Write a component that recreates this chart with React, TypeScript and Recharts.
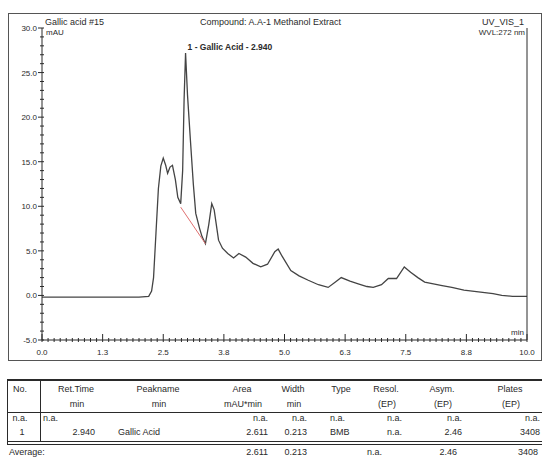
import React from "react";
import { LineChart, Line, XAxis, YAxis, ReferenceDot } from "recharts";

// chromatogram trace (min, mAU)
const retentionTime = [
  0.0, 1.0, 2.0, 2.2, 2.26, 2.3, 2.35, 2.4, 2.45, 2.5, 2.55, 2.59, 2.64, 2.69,
  2.75, 2.8, 2.86, 2.9, 2.93, 2.96, 3.0, 3.06, 3.12, 3.17, 3.25, 3.3, 3.37,
  3.44, 3.5, 3.55, 3.64, 3.72, 3.83, 3.95, 4.06, 4.2, 4.35, 4.51, 4.65, 4.8,
  4.87, 4.95, 5.13, 5.3, 5.49, 5.7, 5.9, 6.05, 6.17, 6.35, 6.52, 6.7, 6.83,
  7.0, 7.14, 7.31, 7.47, 7.6, 7.75, 7.89, 8.07, 8.25, 8.45, 8.7, 9.0, 9.3,
  9.48, 9.7, 10.0,
];
const absorbance = [
  -0.2, -0.2, -0.2, -0.1, 0.5, 2.0, 7.0, 12.0, 14.5, 15.4, 14.6, 13.7, 14.4,
  14.6, 13.0, 11.0, 10.3, 14.0, 22.0, 27.2, 22.5, 17.4, 12.5, 9.2, 7.5, 6.6,
  5.8, 8.0, 10.3, 9.6, 6.2, 5.3, 4.7, 4.2, 4.7, 4.3, 3.6, 3.2, 3.5, 4.9, 5.2,
  4.4, 2.8, 2.2, 1.7, 1.2, 0.9, 1.5, 2.0, 1.6, 1.3, 1.0, 0.9, 1.2, 1.9, 1.9,
  3.2, 2.6, 2.0, 1.5, 1.3, 1.1, 0.9, 0.6, 0.4, 0.2, 0.0, -0.1, -0.1,
];

// integration baseline under peak 1
const baselineTime = [2.86, 3.37];
const baselineValue = [9.9, 5.8];

const peakTime = 2.96;
const peakHeight = 27.2;
const peakLabel = "1 - Gallic Acid - 2.940";

const xMajorTicks = [0, 1.25, 2.5, 3.75, 5, 6.25, 7.5, 8.75, 10];
const xTickLabels = ["0.0", "1.3", "2.5", "3.8", "5.0", "6.3", "7.5", "8.8", "10.0"];
const yMajorTicks = [-5, 0, 5, 10, 15, 20, 25, 30];
const yTickLabels = ["-5.0", "0.0", "5.0", "10.0", "15.0", "20.0", "25.0", "30.0"];

// peak table
const tableHead1 = ["No.", "Ret.Time", "Peakname", "Area", "Width", "Type", "Resol.", "Asym.", "Plates"];
const tableHead2 = ["", "min", "min", "mAU*min", "min", "", "(EP)", "(EP)", "(EP)"];
const naRow = ["n.a.", "n.a.", "", "n.a.", "n.a.", "n.a.", "n.a.", "n.a.", "n.a."];
const peakRow = ["1", "2.940", "Gallic Acid", "2.611", "0.213", "BMB", "n.a.", "2.46", "3408"];
const averageRow = ["Average:", "", "", "2.611", "0.213", "", "n.a.", "2.46", "3408"];

const trace = retentionTime.map((t, i) => ({ t, v: absorbance[i] }));
const baseline = baselineTime.map((t, i) => ({ t, v: baselineValue[i] }));

const xMinor = Array.from({ length: 81 }, (_, i) => i * 0.125);
const yMinor = Array.from({ length: 36 }, (_, i) => i - 5);

const FONT = "'Liberation Sans', Arial, sans-serif";
const INK = "#2a2a2a";

const XTick = (props: any) => {
  const { x, y, payload } = props;
  const idx = xMajorTicks.indexOf(payload.value);
  const major = idx >= 0;
  return (
    <g>
      <line x1={x} x2={x} y1={y - (major ? 6 : 2)} y2={y + 2} stroke={INK} strokeWidth={1} />
      {major && (
        <text x={x} y={y + 15} textAnchor="middle" fontSize={8} fill={INK} fontFamily={FONT}>
          {xTickLabels[idx]}
        </text>
      )}
    </g>
  );
};

const YTick = (props: any) => {
  const { x, y, payload } = props;
  const idx = yMajorTicks.indexOf(payload.value);
  const major = idx >= 0;
  return (
    <g>
      <line x1={x - (major ? 4 : 2)} x2={x + 2} y1={y} y2={y} stroke={INK} strokeWidth={1} />
      {major && (
        <text x={x - 5} y={y + 3} textAnchor="end" fontSize={8} fill={INK} fontFamily={FONT}>
          {yTickLabels[idx]}
        </text>
      )}
    </g>
  );
};

const PeakText = (props: any) => {
  const { viewBox } = props;
  return (
    <text
      x={viewBox.x + 2}
      y={viewBox.y - 3}
      fontSize={8.5}
      fontWeight="bold"
      fill={INK}
      fontFamily={FONT}
    >
      {peakLabel}
    </text>
  );
};

type Align = "left" | "right" | "center";
const T = ({ x, y, align, size = 9, children }: { x: number; y: number; align: Align; size?: number; children: any }) => {
  const style: React.CSSProperties = {
    position: "absolute",
    top: y - 5,
    fontSize: size,
    lineHeight: "10px",
    fontFamily: FONT,
    color: INK,
    whiteSpace: "nowrap",
  };
  if (align === "right") style.right = 542 - x;
  else if (align === "center") {
    style.left = x;
    style.transform = "translateX(-50%)";
  } else style.left = x;
  return <div style={style}>{children}</div>;
};

const colHead = [20, 76, 158, 242, 293, 341, 386, 442, 510];
const colVal = [22, 95, 118, 268, 307, 330, 402, 462, 540];
const colAlign: Align[] = ["center", "right", "left", "right", "right", "left", "right", "right", "right"];

const hLine = (top: number, h = 1, left = 7, width = 535): React.CSSProperties => ({
  position: "absolute",
  left,
  top,
  width,
  height: h,
  background: INK,
});
const vLine = (left: number, top: number, height: number): React.CSSProperties => ({
  position: "absolute",
  left,
  top,
  width: 1,
  height,
  background: INK,
});

export default function App() {
  return (
    <div
      style={{
        position: "absolute",
        left: 0,
        top: 0,
        width: 542,
        height: 457,
        background: "#fff",
        overflow: "hidden",
      }}
    >
      {/* outer frame of the chromatogram */}
      <div style={{ position: "absolute", left: 8, top: 13, width: 532, height: 346, border: "1px solid #555" }} />

      <LineChart
        width={542}
        height={370}
        data={trace}
        margin={{ top: 28, right: 0, bottom: 0, left: 0 }}
        style={{ position: "absolute", left: 0, top: 0 }}
      >
        <XAxis
          dataKey="t"
          type="number"
          domain={[0, 10]}
          ticks={xMinor}
          interval={0}
          height={30}
          tickSize={0}
          tickMargin={0}
          tick={<XTick />}
          axisLine={{ stroke: INK }}
        />
        <XAxis xAxisId="top" orientation="top" type="number" domain={[0, 10]} height={0} tick={false} axisLine={{ stroke: INK }} />
        <YAxis
          type="number"
          domain={[-5, 30]}
          ticks={yMinor}
          interval={0}
          width={42}
          tickSize={0}
          tickMargin={0}
          tick={<YTick />}
          axisLine={{ stroke: INK }}
        />
        <YAxis yAxisId="right" orientation="right" type="number" domain={[-5, 30]} width={15} tick={false} axisLine={{ stroke: INK }} />
        <Line
          type="linear"
          dataKey="v"
          stroke="#444"
          strokeWidth={1.3}
          dot={false}
          isAnimationActive={false}
        />
        <Line
          data={baseline}
          type="linear"
          dataKey="v"
          stroke="#e07070"
          strokeWidth={1}
          dot={false}
          isAnimationActive={false}
        />
        <ReferenceDot x={peakTime} y={peakHeight} r={0} stroke="none" label={<PeakText />} />
      </LineChart>

      {/* chromatogram header */}
      <T x={45} y={22} align="left">Gallic acid #15</T>
      <T x={200} y={22} align="left">Compound: A.A-1 Methanol Extract</T>
      <T x={524} y={22} align="right">UV_VIS_1</T>
      <T x={46} y={33} align="left" size={8}>mAU</T>
      <T x={525} y={33} align="right" size={8}>WVL:272 nm</T>
      <T x={524} y={333} align="right" size={8}>min</T>

      {/* peak table */}
      <div style={hLine(379, 2)} />
      <div style={hLine(412)} />
      <div style={hLine(441)} />
      <div style={hLine(444)} />
      <div style={vLine(7, 380, 64)} />
      <div style={vLine(40, 380, 61)} />

      {tableHead1.map((h, i) => (
        <T key={"h1" + i} x={colHead[i]} y={389} align="center">{h}</T>
      ))}
      {tableHead2.map((h, i) => (
        <T key={"h2" + i} x={colHead[i] + 1} y={404} align="center">{h}</T>
      ))}
      {naRow.map((v, i) =>
        i === 1 ? (
          <T key={"na" + i} x={43} y={418} align="left">{v}</T>
        ) : (
          <T key={"na" + i} x={i === 0 ? 20 : colVal[i]} y={418} align={colAlign[i]}>{v}</T>
        )
      )}
      {peakRow.map((v, i) => (
        <T key={"pk" + i} x={colVal[i]} y={432} align={colAlign[i]}>{v}</T>
      ))}
      {averageRow.map((v, i) => {
        if (!v) return null;
        if (i === 0) return <T key="av0" x={9} y={452} align="left">{v}</T>;
        if (i === 6) return <T key="av6" x={367} y={452} align="left">{v}</T>;
        if (i === 7) return <T key="av7" x={457} y={452} align="right">{v}</T>;
        if (i === 8) return <T key="av8" x={538} y={452} align="right">{v}</T>;
        return <T key={"av" + i} x={colVal[i]} y={452} align={colAlign[i]}>{v}</T>;
      })}
    </div>
  );
}
